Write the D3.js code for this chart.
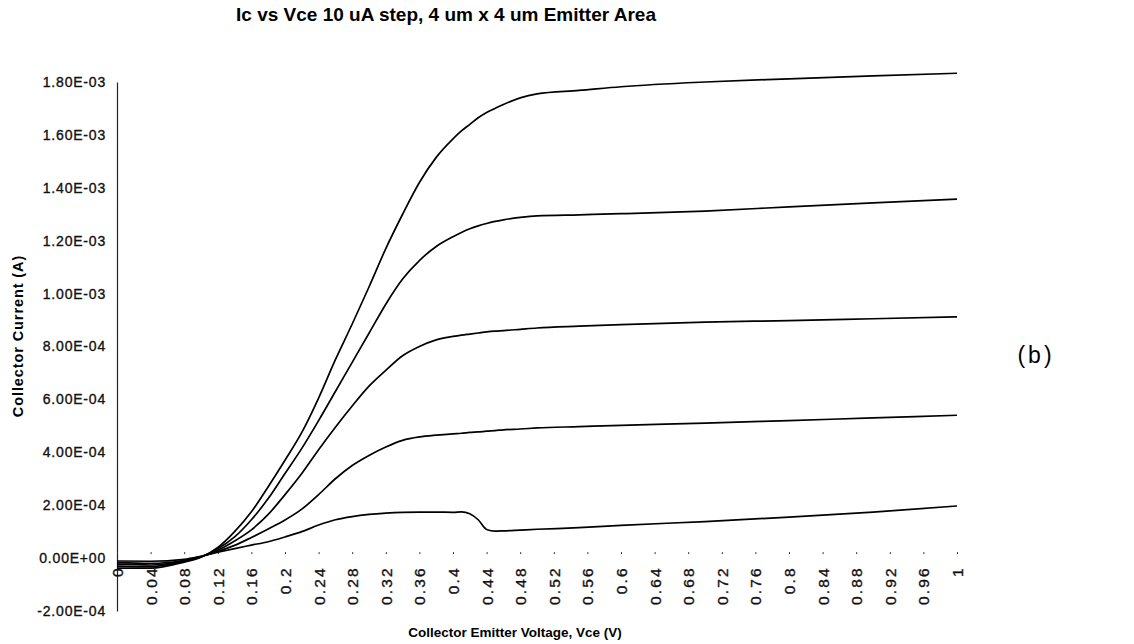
<!DOCTYPE html>
<html lang="en">
<head>
<meta charset="UTF-8">
<title>Ic vs Vce</title>
<script src="https://d3js.org/d3.v7.min.js"></script>
<style>
    body { margin: 0; background: #fff; }
    svg { display: block; font-family: "Liberation Sans", Arial, Helvetica, sans-serif; }
</style>
</head>
<body>
<svg width="1134" height="644"></svg>

<script>
    // Vce sweep (V) and collector current (A) for each base-current step
    var vce = [0, 0.04, 0.08, 0.10, 0.12, 0.14, 0.16, 0.18, 0.20, 0.22, 0.24, 0.26, 0.28, 0.30,
        0.32, 0.34, 0.36, 0.38, 0.40, 0.41, 0.42, 0.43, 0.44, 0.45, 0.46, 0.48, 0.50, 0.55,
        0.60, 0.70, 0.80, 0.90, 1.00];

    var ic10 = [-1.1e-5, -1.2e-5, -5e-6, 7e-6, 2.2e-5, 3.6e-5, 4.9e-5, 6.2e-5, 8.0e-5, 1.0e-4,
        1.25e-4, 1.45e-4, 1.57e-4, 1.65e-4, 1.70e-4, 1.73e-4, 1.74e-4, 1.74e-4, 1.73e-4, 1.75e-4,
        1.68e-4, 1.45e-4, 1.08e-4, 1.02e-4, 1.03e-4, 1.06e-4, 1.09e-4, 1.15e-4, 1.24e-4, 1.38e-4,
        1.55e-4, 1.74e-4, 1.97e-4];

    var ic20 = [-1.7e-5, -2.0e-5, -8e-6, 6e-6, 2.5e-5, 4.8e-5, 7.8e-5, 1.1e-4, 1.44e-4, 1.85e-4,
        2.4e-4, 3.0e-4, 3.5e-4, 3.88e-4, 4.2e-4, 4.45e-4, 4.58e-4, 4.65e-4, 4.70e-4, 4.72e-4,
        4.75e-4, 4.77e-4, 4.80e-4, 4.82e-4, 4.85e-4, 4.88e-4, 4.92e-4, 4.97e-4, 5.02e-4, 5.10e-4,
        5.20e-4, 5.30e-4, 5.40e-4];

    var ic30 = [-2.3e-5, -2.6e-5, -1.0e-5, 5e-6, 3.0e-5, 6.5e-5, 1.07e-4, 1.65e-4, 2.4e-4, 3.2e-4,
        4.1e-4, 4.95e-4, 5.75e-4, 6.5e-4, 7.1e-4, 7.65e-4, 8.0e-4, 8.25e-4, 8.38e-4, 8.43e-4,
        8.47e-4, 8.51e-4, 8.55e-4, 8.58e-4, 8.6e-4, 8.65e-4, 8.7e-4, 8.77e-4, 8.83e-4, 8.92e-4,
        8.98e-4, 9.05e-4, 9.12e-4];

    var ic40 = [-3.0e-5, -3.2e-5, -1.2e-5, 4e-6, 3.5e-5, 8.0e-5, 1.45e-4, 2.25e-4, 3.2e-4, 4.15e-4,
        5.2e-4, 6.3e-4, 7.4e-4, 8.5e-4, 9.6e-4, 1.055e-3, 1.125e-3, 1.178e-3, 1.215e-3, 1.231e-3,
        1.245e-3, 1.256e-3, 1.265e-3, 1.273e-3, 1.279e-3, 1.288e-3, 1.294e-3, 1.298e-3, 1.302e-3,
        1.312e-3, 1.328e-3, 1.343e-3, 1.357e-3];

    var ic50 = [-3.8e-5, -3.8e-5, -1.5e-5, 3e-6, 4.0e-5, 1.0e-4, 1.75e-4, 2.7e-4, 3.7e-4, 4.75e-4,
        6.05e-4, 7.5e-4, 8.85e-4, 1.025e-3, 1.17e-3, 1.30e-3, 1.42e-3, 1.515e-3, 1.585e-3, 1.615e-3,
        1.64e-3, 1.665e-3, 1.685e-3, 1.70e-3, 1.715e-3, 1.74e-3, 1.755e-3, 1.768e-3, 1.782e-3,
        1.80e-3, 1.812e-3, 1.823e-3, 1.833e-3];

    var yTicks = [-2e-4, 0, 2e-4, 4e-4, 6e-4, 8e-4, 1e-3, 1.2e-3, 1.4e-3, 1.6e-3, 1.8e-3];

    var xTicks = [0, 0.04, 0.08, 0.12, 0.16, 0.2, 0.24, 0.28, 0.32, 0.36, 0.4, 0.44, 0.48, 0.52,
        0.56, 0.6, 0.64, 0.68, 0.72, 0.76, 0.8, 0.84, 0.88, 0.92, 0.96, 1];

    var svg = d3.select("svg"),
        width = +svg.attr("width"),
        height = +svg.attr("height");

    svg.append("rect").attr("width", width).attr("height", height).attr("fill", "#fff");

    var x = d3.scaleLinear().domain([0, 1]).range([117, 957]);
    var y = d3.scaleLinear().domain([-2e-4, 1.8e-3]).range([611, 82]);

    // Excel style 1.80E-03
    function sci(v) {
        var s = v.toExponential(2).split("e");
        var e = +s[1];
        return s[0] + "E" + (e < 0 ? "-" : "+") + d3.format("02d")(Math.abs(e));
    }

    var yg = svg.append("g")
        .attr("transform", "translate(" + x(0) + ",0)")
        .call(d3.axisLeft(y).tickValues(yTicks).tickSize(0).tickPadding(11).tickFormat(sci));
    yg.attr("font-family", null).attr("font-size", 14);
    yg.select(".domain").attr("stroke", "#222").attr("stroke-width", 1.2);
    yg.selectAll(".tick text")
        .attr("fill", "#111")
        .attr("stroke", "#111")
        .attr("stroke-width", 0.35)
        .attr("letter-spacing", "0.8px");

    var xg = svg.append("g")
        .attr("transform", "translate(0," + y(0) + ")")
        .call(d3.axisBottom(x).tickValues(xTicks).tickSize(0).tickFormat(function (d) {
            return String(+d.toFixed(2));
        }));
    xg.attr("font-family", null).attr("font-size", 15.5);
    xg.select(".domain").attr("stroke", "none");
    xg.selectAll(".tick").append("line")
        .attr("y1", -6).attr("y2", -4)
        .attr("stroke", "#333");
    xg.selectAll(".tick text")
        .attr("fill", "#111")
        .attr("stroke", "#111")
        .attr("stroke-width", 0.35)
        .attr("letter-spacing", "2.2px")
        .attr("transform", "rotate(-90)")
        .attr("text-anchor", "end")
        .attr("x", -8)
        .attr("y", 0)
        .attr("dy", "0.35em");

    var line = d3.line()
        .x(function (d, i) { return x(vce[i]); })
        .y(function (d) { return y(d); })
        .curve(d3.curveMonotoneX);

    svg.append("g")
        .attr("class", "curves")
        .selectAll("path")
        .data([ic10, ic20, ic30, ic40, ic50])
        .enter().append("path")
        .attr("d", line)
        .attr("fill", "none")
        .attr("stroke", "#000")
        .attr("stroke-width", 1.7);

    svg.append("text")
        .attr("x", 446)
        .attr("y", 21)
        .attr("text-anchor", "middle")
        .attr("font-size", 19)
        .attr("font-weight", "bold")
        .text("Ic vs Vce 10 uA step, 4 um x 4 um Emitter Area");

    svg.append("text")
        .attr("x", 515)
        .attr("y", 637)
        .attr("text-anchor", "middle")
        .attr("font-size", 13.5)
        .attr("font-weight", "bold")
        .text("Collector Emitter Voltage, Vce (V)");

    svg.append("text")
        .attr("transform", "translate(23,336) rotate(-90)")
        .attr("text-anchor", "middle")
        .attr("font-size", 14.5)
        .attr("font-weight", "bold")
        .attr("letter-spacing", "0.9px")
        .text("Collector Current (A)");

    svg.append("text")
        .attr("x", 1036)
        .attr("y", 363)
        .attr("text-anchor", "middle")
        .attr("font-size", 23)
        .attr("letter-spacing", "3px")
        .text("(b)");
</script>
</body>
</html>
